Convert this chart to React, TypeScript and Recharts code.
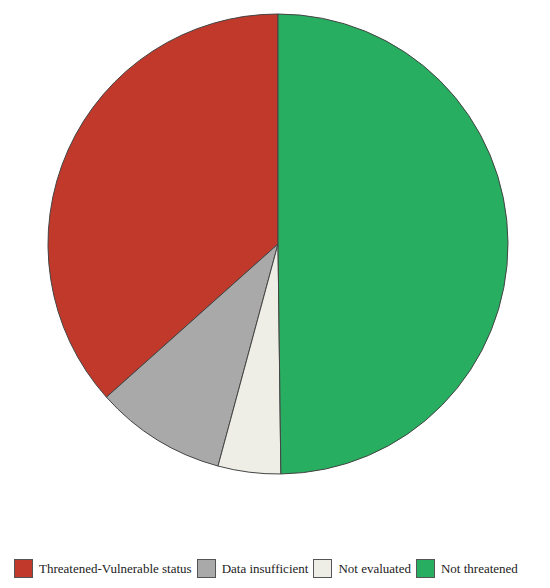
import { PieChart, Pie, Cell, Legend } from 'recharts';

// 保全状況の内訳（%）
const categories = [
  'Threatened-Vulnerable status',
  'Data insufficient',
  'Not evaluated',
  'Not threatened',
];
const shares = [36.6, 9.2, 4.4, 49.8];
const colors = ['#C0392B', '#A9A9A9', '#EEEEE6', '#27AE60'];

const data = categories.map((name, i) => ({ name, value: shares[i] }));

const renderLegend = () => (
  <div
    style={{
      display: 'flex',
      alignItems: 'center',
      fontFamily: '"Liberation Serif", "Times New Roman", serif',
      fontSize: '13px',
      color: '#222',
      paddingLeft: '14px',
      whiteSpace: 'nowrap',
      width: '550px',
      boxSizing: 'border-box',
    }}
  >
    {data.map((d, i) => (
      <div
        key={d.name}
        style={{ display: 'flex', alignItems: 'center', marginRight: '5px', flexShrink: 0 }}
      >
        <span
          style={{
            display: 'inline-block',
            width: '17px',
            height: '17px',
            backgroundColor: colors[i],
            border: '1px solid #555',
            marginRight: '6px',
            flexShrink: 0,
          }}
        />
        <span>{d.name}</span>
      </div>
    ))}
  </div>
);

const App = () => {
  return (
    <div style={{ position: 'absolute', left: 0, top: 0, width: 550, height: 588, background: '#fff' }}>
      <PieChart width={550} height={588} margin={{ top: 0, right: 0, bottom: 0, left: 0 }}>
        <Pie
          data={data}
          dataKey="value"
          nameKey="name"
          cx={278}
          cy={244}
          outerRadius={230}
          startAngle={90}
          endAngle={450}
          stroke="#444"
          strokeWidth={1}
          isAnimationActive={false}
        >
          {data.map((d, i) => (
            <Cell key={d.name} fill={colors[i]} />
          ))}
        </Pie>
        <Legend
          content={renderLegend}
          wrapperStyle={{ position: 'absolute', left: 0, top: 559, width: 550 }}
        />
      </PieChart>
    </div>
  );
};

export default App;
